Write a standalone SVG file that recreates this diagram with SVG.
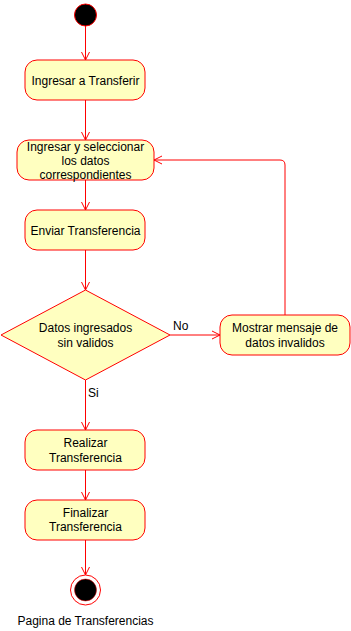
<svg xmlns="http://www.w3.org/2000/svg" width="351" height="631" viewBox="0 0 351 631">
  <defs>
    <marker id="arrow" markerWidth="10" markerHeight="10" refX="9" refY="5" orient="auto" markerUnits="userSpaceOnUse">
      <path d="M1,1 L9,5 L1,9" fill="none" stroke="#ff0000" stroke-width="1"/>
    </marker>
    <style>
      .act { fill: #ffffc0; stroke: #ff0000; stroke-width: 1; }
      .edge { fill: none; stroke: #ff0000; stroke-width: 1; marker-end: url(#arrow); }
      text { font-family: "Liberation Sans", Arial, sans-serif; font-size: 12px; fill: #000000; }
      .c { text-anchor: middle; }
    </style>
  </defs>
  <rect width="351" height="631" fill="#ffffff"/>

  <g id="connectors">
    <line class="edge" x1="85.5" y1="26" x2="85.5" y2="60"/>
    <line class="edge" x1="85.5" y1="100" x2="85.5" y2="140"/>
    <line class="edge" x1="85.5" y1="180" x2="85.5" y2="210"/>
    <line class="edge" x1="85.5" y1="250" x2="85.5" y2="290"/>
    <line class="edge" x1="170" y1="335" x2="220" y2="335"/>
    <path class="edge" d="M285,315 L285,165 Q285,160 280,160 L154,160"/>
    <line class="edge" x1="85.5" y1="380" x2="85.5" y2="430"/>
    <line class="edge" x1="85.5" y1="470" x2="85.5" y2="500"/>
    <line class="edge" x1="85.5" y1="540" x2="85.5" y2="575"/>
    <text x="173" y="330">No</text>
    <text x="88" y="397">Si</text>
  </g>

  <g id="start">
    <circle cx="85.5" cy="15" r="11" fill="#000000" stroke="#ff0000"/>
  </g>

  <g id="ingresar">
    <rect class="act" x="25" y="60" width="120" height="40" rx="12"/>
    <text class="c" x="85.5" y="85">Ingresar a Transferir</text>
  </g>

  <g id="seleccionar">
    <rect class="act" x="17" y="140" width="137" height="40" rx="12"/>
    <text class="c" x="85.5" y="151">Ingresar y seleccionar</text>
    <text class="c" x="85.5" y="165">los datos</text>
    <text class="c" x="85.5" y="179">correspondientes</text>
  </g>

  <g id="enviar">
    <rect class="act" x="25" y="210" width="120" height="40" rx="12"/>
    <text class="c" x="85.5" y="235">Enviar Transferencia</text>
  </g>

  <g id="decision">
    <polygon class="act" points="85.5,290 170,335 85.5,380 1,335"/>
    <text class="c" x="85.5" y="332">Datos ingresados</text>
    <text class="c" x="85.5" y="347">sin validos</text>
  </g>

  <g id="mostrar">
    <rect class="act" x="220" y="315" width="130" height="40" rx="12"/>
    <text class="c" x="285" y="332">Mostrar mensaje de</text>
    <text class="c" x="285" y="347">datos invalidos</text>
  </g>

  <g id="realizar">
    <rect class="act" x="25" y="430" width="120" height="40" rx="12"/>
    <text class="c" x="85.5" y="447">Realizar</text>
    <text class="c" x="85.5" y="462">Transferencia</text>
  </g>

  <g id="finalizar">
    <rect class="act" x="25" y="500" width="120" height="40" rx="12"/>
    <text class="c" x="85.5" y="517">Finalizar</text>
    <text class="c" x="85.5" y="531">Transferencia</text>
  </g>

  <g id="end">
    <circle cx="85.5" cy="590" r="15" fill="#ffffff" stroke="#ff0000"/>
    <circle cx="85.5" cy="590" r="11" fill="#000000" stroke="#ff0000" stroke-width="0.5"/>
    <text class="c" x="85.5" y="625">Pagina de Transferencias</text>
  </g>
</svg>
